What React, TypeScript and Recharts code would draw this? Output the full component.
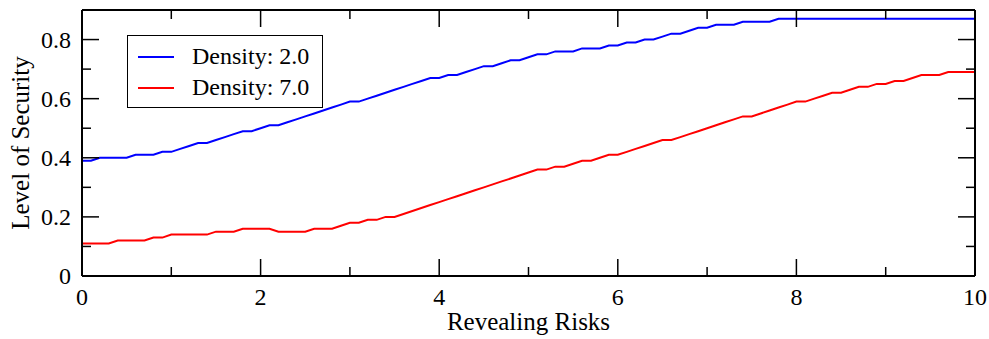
import { LineChart, Line, XAxis, YAxis, Legend, Label } from "recharts";

const risks = [
  0, 0.1, 0.2, 0.3, 0.4, 0.5, 0.6, 0.7, 0.8, 0.9,
  1, 1.1, 1.2, 1.3, 1.4, 1.5, 1.6, 1.7, 1.8, 1.9,
  2, 2.1, 2.2, 2.3, 2.4, 2.5, 2.6, 2.7, 2.8, 2.9,
  3, 3.1, 3.2, 3.3, 3.4, 3.5, 3.6, 3.7, 3.8, 3.9,
  4, 4.1, 4.2, 4.3, 4.4, 4.5, 4.6, 4.7, 4.8, 4.9,
  5, 5.1, 5.2, 5.3, 5.4, 5.5, 5.6, 5.7, 5.8, 5.9,
  6, 6.1, 6.2, 6.3, 6.4, 6.5, 6.6, 6.7, 6.8, 6.9,
  7, 7.1, 7.2, 7.3, 7.4, 7.5, 7.6, 7.7, 7.8, 7.9,
  8, 8.1, 8.2, 8.3, 8.4, 8.5, 8.6, 8.7, 8.8, 8.9,
  9, 9.1, 9.2, 9.3, 9.4, 9.5, 9.6, 9.7, 9.8, 9.9,
  10,
];

// Density: 2.0
const density2 = [
  0.39, 0.39, 0.40, 0.40, 0.40, 0.40, 0.41, 0.41, 0.41, 0.42,
  0.42, 0.43, 0.44, 0.45, 0.45, 0.46, 0.47, 0.48, 0.49, 0.49,
  0.50, 0.51, 0.51, 0.52, 0.53, 0.54, 0.55, 0.56, 0.57, 0.58,
  0.59, 0.59, 0.60, 0.61, 0.62, 0.63, 0.64, 0.65, 0.66, 0.67,
  0.67, 0.68, 0.68, 0.69, 0.70, 0.71, 0.71, 0.72, 0.73, 0.73,
  0.74, 0.75, 0.75, 0.76, 0.76, 0.76, 0.77, 0.77, 0.77, 0.78,
  0.78, 0.79, 0.79, 0.80, 0.80, 0.81, 0.82, 0.82, 0.83, 0.84,
  0.84, 0.85, 0.85, 0.85, 0.86, 0.86, 0.86, 0.86, 0.87, 0.87,
  0.87, 0.87, 0.87, 0.87, 0.87, 0.87, 0.87, 0.87, 0.87, 0.87,
  0.87, 0.87, 0.87, 0.87, 0.87, 0.87, 0.87, 0.87, 0.87, 0.87,
  0.87,
];

// Density: 7.0
const density7 = [
  0.11, 0.11, 0.11, 0.11, 0.12, 0.12, 0.12, 0.12, 0.13, 0.13,
  0.14, 0.14, 0.14, 0.14, 0.14, 0.15, 0.15, 0.15, 0.16, 0.16,
  0.16, 0.16, 0.15, 0.15, 0.15, 0.15, 0.16, 0.16, 0.16, 0.17,
  0.18, 0.18, 0.19, 0.19, 0.20, 0.20, 0.21, 0.22, 0.23, 0.24,
  0.25, 0.26, 0.27, 0.28, 0.29, 0.30, 0.31, 0.32, 0.33, 0.34,
  0.35, 0.36, 0.36, 0.37, 0.37, 0.38, 0.39, 0.39, 0.40, 0.41,
  0.41, 0.42, 0.43, 0.44, 0.45, 0.46, 0.46, 0.47, 0.48, 0.49,
  0.50, 0.51, 0.52, 0.53, 0.54, 0.54, 0.55, 0.56, 0.57, 0.58,
  0.59, 0.59, 0.60, 0.61, 0.62, 0.62, 0.63, 0.64, 0.64, 0.65,
  0.65, 0.66, 0.66, 0.67, 0.68, 0.68, 0.68, 0.69, 0.69, 0.69,
  0.69,
];

const xTicks = [0, 1, 2, 3, 4, 5, 6, 7, 8, 9, 10];
const yTicks = [0, 0.1, 0.2, 0.3, 0.4, 0.5, 0.6, 0.7, 0.8];

const data = risks.map((r, i) => ({ risk: r, d2: density2[i], d7: density7[i] }));

const FONT = "'Liberation Serif', 'Times New Roman', serif";
const MAJOR = 17;
const MINOR = 9;

const BottomTick = ({ x, y, payload, index }: any) => {
  const major = index % 2 === 0;
  return (
    <g>
      <line x1={x} x2={x} y1={y} y2={y - (major ? MAJOR : MINOR)} stroke="#000" strokeWidth={1.5} />
      {major && (
        <text x={x} y={y + 29} textAnchor="middle" fontFamily={FONT} fontSize={24} fill="#000">
          {payload.value}
        </text>
      )}
    </g>
  );
};

const TopTick = ({ x, y, index }: any) => {
  const major = index % 2 === 0;
  return <line x1={x} x2={x} y1={y} y2={y + (major ? MAJOR : MINOR)} stroke="#000" strokeWidth={1.5} />;
};

const LeftTick = ({ x, y, payload, index }: any) => {
  const major = index % 2 === 0;
  return (
    <g>
      <line x1={x} x2={x + (major ? MAJOR : MINOR)} y1={y} y2={y} stroke="#000" strokeWidth={1.5} />
      {major && (
        <text x={x - 11} y={y + 8} textAnchor="end" fontFamily={FONT} fontSize={24} fill="#000">
          {payload.value === 0 ? "0" : payload.value.toFixed(1)}
        </text>
      )}
    </g>
  );
};

const RightTick = ({ x, y, index }: any) => {
  const major = index % 2 === 0;
  return <line x1={x} x2={x - (major ? MAJOR : MINOR)} y1={y} y2={y} stroke="#000" strokeWidth={1.5} />;
};

const YTitle = ({ viewBox }: any) => {
  const cy = viewBox.y + viewBox.height / 2;
  return (
    <text
      x={20}
      y={cy}
      transform={`rotate(-90, 20, ${cy})`}
      textAnchor="middle"
      dominantBaseline="central"
      fontFamily={FONT}
      fontSize={25}
      fill="#000"
    >
      Level of Security
    </text>
  );
};

const XTitle = ({ viewBox }: any) => {
  const cx = viewBox.x + viewBox.width / 2;
  return (
    <text x={cx} y={viewBox.y + 54} textAnchor="middle" fontFamily={FONT} fontSize={25} fill="#000">
      Revealing Risks
    </text>
  );
};

const LegendBox = ({ payload }: any) => (
  <div
    style={{
      width: 194,
      height: 71,
      border: "1.5px solid #000",
      background: "#fff",
      fontFamily: FONT,
      fontSize: 24,
      boxSizing: "content-box",
    }}
  >
    {(payload || [])
      .filter((p: any) => p.type !== "none" && p.color !== "none")
      .map((p: any, i: number) => (
        <div key={i} style={{ display: "flex", alignItems: "center", height: 31, marginTop: i === 0 ? 5 : 0 }}>
          <div style={{ width: 36, height: 2, background: p.color, marginLeft: 10, marginRight: 18 }} />
          <span style={{ lineHeight: "31px" }}>{p.value}</span>
        </div>
      ))}
  </div>
);

export default function App() {
  return (
    <div style={{ position: "absolute", left: 0, top: 0, width: 989, height: 339 }}>
      <LineChart width={989} height={339} data={data} margin={{ top: 9, right: 13, bottom: 0, left: 0 }}>
        <XAxis
          dataKey="risk"
          type="number"
          domain={[0, 10]}
          ticks={xTicks}
          interval={0}
          height={63}
          tickSize={0}
          tickMargin={0}
          tickLine={false}
          tick={BottomTick}
          axisLine={{ stroke: "#000", strokeWidth: 2 }}
        >
          <Label content={XTitle} />
        </XAxis>
        <XAxis
          xAxisId="top"
          dataKey="risk"
          orientation="top"
          type="number"
          domain={[0, 10]}
          ticks={xTicks}
          interval={0}
          height={1}
          tickSize={0}
          tickMargin={0}
          tickLine={false}
          tick={TopTick}
          axisLine={{ stroke: "#000", strokeWidth: 2 }}
        />
        <YAxis
          type="number"
          domain={[0, 0.9]}
          ticks={yTicks}
          interval={0}
          width={82}
          tickSize={0}
          tickMargin={0}
          tickLine={false}
          tick={LeftTick}
          axisLine={{ stroke: "#000", strokeWidth: 2 }}
        >
          <Label content={YTitle} />
        </YAxis>
        <YAxis
          yAxisId="right"
          orientation="right"
          type="number"
          domain={[0, 0.9]}
          ticks={yTicks}
          interval={0}
          width={1}
          tickSize={0}
          tickMargin={0}
          tickLine={false}
          tick={RightTick}
          axisLine={{ stroke: "#000", strokeWidth: 2 }}
        />
        <Legend
          content={LegendBox}
          wrapperStyle={{ left: 127, top: 35, width: 0, height: 0, overflow: "visible" }}
        />
        <Line
          xAxisId="top"
          yAxisId="right"
          dataKey="d2"
          stroke="none"
          legendType="none"
          dot={false}
          activeDot={false}
          isAnimationActive={false}
        />
        <Line
          type="linear"
          dataKey="d2"
          name="Density: 2.0"
          stroke="#0000ff"
          strokeWidth={2}
          dot={false}
          isAnimationActive={false}
        />
        <Line
          type="linear"
          dataKey="d7"
          name="Density: 7.0"
          stroke="#ff0000"
          strokeWidth={2}
          dot={false}
          isAnimationActive={false}
        />
      </LineChart>
    </div>
  );
}
